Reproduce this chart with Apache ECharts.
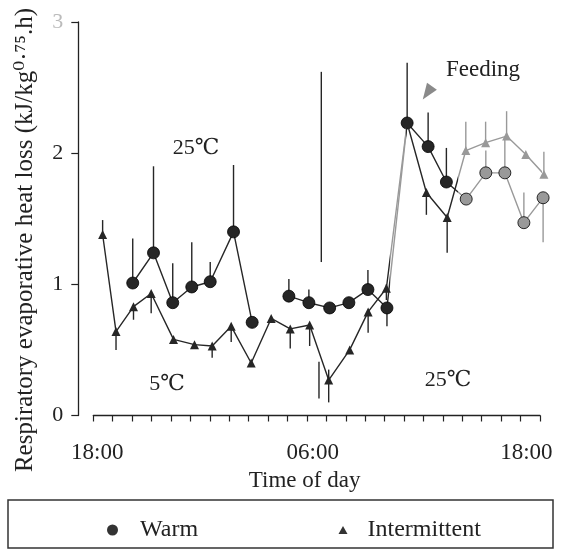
<!DOCTYPE html>
<html>
<head>
<meta charset="utf-8">
<script src="https://cdn.jsdelivr.net/npm/echarts@6/dist/echarts.min.js"></script>
<style>
  html, body { margin: 0; padding: 0; background: #fff; }
  #chart { width: 563px; height: 550px; }
</style>
</head>
<body>
<div id="chart"></div>
<script>
// x is measured in tick steps: tick 0 sits under the first 18:00 reading
const xLabelPos = [-0.8, 10.3, 21.3];
const xLabelText = ["18:00", "06:00", "18:00"];

const warmTime = [1.03, 2.1, 3.09, 4.07, 5.02, 6.22, 7.18, 8, 9.07, 10.1, 11.17, 12.16, 13.14, 14.12,
  15.16, 16.24, 17.18, 18.2, 19.21, 20.19, 21.17, 22.16];
const warmValue = [1.01, 1.24, 0.86, 0.98, 1.02, 1.4, 0.71, "-", 0.91, 0.86, 0.82, 0.86, 0.96, 0.82,
  2.23, 2.05, 1.78, 1.65, 1.85, 1.85, 1.47, 1.66];

const interTime = [-0.52, 0.17, 1.07, 1.98, 3.13, 4.21, 5.12, 6.1, 7.13, 8.16, 9.14, 10.14, 11.12, 12.2,
  13.15, 14.09, 15.16, 16.15, 17.22, 18.18, 19.2, 20.28, 21.27, 22.2];
const interValue = [1.38, 0.64, 0.83, 0.93, 0.58, 0.54, 0.53, 0.68, 0.4, 0.74, 0.66, 0.69, 0.27, 0.5,
  0.79, 0.97, 2.23, 1.7, 1.51, 2.02, 2.08, 2.13, 1.99, 1.84];

// error bars: [time, low, high]
const warmErr = [
  [1.03, 1.01, 1.35], [2.1, 1.24, 1.9], [3.09, 0.86, 1.16], [4.07, 0.98, 1.32],
  [5.02, 1.02, 1.17], [6.22, 1.4, 1.91], [9.07, 0.91, 1.04], [10.1, 0.86, 0.96],
  [10.74, 1.17, 2.62], [13.14, 0.96, 1.11], [14.12, 0.68, 0.82], [15.16, 2.23, 2.69],
  [16.24, 2.05, 2.31], [17.18, 1.78, 2.04], [19.21, 1.85, 2.02], [20.19, 1.85, 2.1],
  [21.17, 1.47, 1.7], [22.16, 1.32, 1.66]
];
const interErr = [
  [-0.52, 1.38, 1.49], [0.17, 0.5, 0.64], [1.07, 0.73, 0.83], [1.98, 0.78, 0.93],
  [5.12, 0.44, 0.53], [6.1, 0.56, 0.68], [9.14, 0.51, 0.66], [10.14, 0.53, 0.69],
  [10.62, 0.13, 0.41], [11.12, 0.1, 0.35], [13.15, 0.63, 0.79], [14.09, 0.88, 1.0],
  [16.15, 1.53, 1.7], [17.22, 1.24, 1.51], [18.18, 2.02, 2.24], [19.2, 2.08, 2.24],
  [20.28, 2.13, 2.32], [22.2, 1.84, 2.01]
];

const serif = "Liberation Serif, DejaVu Serif, serif";

function pairs(xs, ys) {
  return xs.map(function (x, i) { return [x, ys[i]]; });
}

function errBar(params, api) {
  const x = api.value(0);
  const p1 = api.coord([x, api.value(1)]);
  const p2 = api.coord([x, api.value(2)]);
  return {
    type: "line",
    shape: { x1: p1[0], y1: p1[1], x2: p2[0], y2: p2[1] },
    style: { stroke: api.visual("color"), lineWidth: 1.4 }
  };
}

const chart = echarts.init(document.getElementById("chart"));
chart.setOption({
  backgroundColor: "#fff",
  animation: false,
  grid: { left: 93.3, right: 23, top: 22, bottom: 134.5 },
  xAxis: {
    type: "value",
    min: -1,
    max: 22,
    interval: 1,
    name: "Time of day",
    nameLocation: "middle",
    nameGap: 54,
    nameTextStyle: { fontFamily: serif, fontSize: 23, color: "#222", padding: [0, 24, 0, 0] },
    axisLine: { onZero: false, lineStyle: { color: "#222", width: 1.3 } },
    axisTick: { length: 6, lineStyle: { color: "#222", width: 1.2 } },
    axisLabel: {
      customValues: xLabelPos,
      formatter: function (v) { return xLabelText[xLabelPos.indexOf(v)]; },
      fontFamily: serif, fontSize: 23, color: "#222", margin: 26
    },
    splitLine: { show: false }
  },
  yAxis: {
    type: "value",
    min: 0,
    max: 3,
    interval: 1,
    offset: 15,
    axisLine: { show: true, onZero: false, lineStyle: { color: "#222", width: 1.3 } },
    axisTick: { show: true, length: 7, lineStyle: { color: "#222", width: 1.2 } },
    axisLabel: {
      fontFamily: serif, fontSize: 22, margin: 15,
      color: function (v) { return v === "3" || v === 3 ? "#bbb" : "#222"; }
    },
    splitLine: { show: false }
  },
  visualMap: {
    type: "piecewise",
    show: false,
    dimension: 0,
    seriesIndex: [0, 1, 2, 3],
    pieces: [
      { lt: 14.3, color: "#262626" },
      { gte: 14.3, lt: 15.1, color: "#999" },
      { gte: 15.1, lt: 17.77, color: "#262626" },
      { gte: 17.77, color: "#999" }
    ]
  },
  legend: [
    {
      data: [{ name: "Warm", icon: "circle", itemStyle: { color: "#333", borderWidth: 0 } }],
      left: 102, top: 513, itemWidth: 11, itemHeight: 11, selectedMode: false,
      textStyle: { fontFamily: serif, fontSize: 24, color: "#222", padding: [0, 0, 0, 17] }
    },
    {
      data: [{ name: "Intermittent", icon: "triangle", itemStyle: { color: "#333" } }],
      left: 333.5, top: 513, itemWidth: 9, itemHeight: 8, selectedMode: false,
      textStyle: { fontFamily: serif, fontSize: 24, color: "#222", padding: [0, 0, 0, 15] }
    }
  ],
  graphic: [
    { type: "rect", shape: { x: 8, y: 500, width: 545, height: 48 },
      style: { fill: "none", stroke: "#333", lineWidth: 1.5 } },
    { type: "text", x: 25, y: 240, rotation: Math.PI / 2,
      style: { text: "Respiratory evaporative heat loss (kJ/kg\u2070\u00b7\u2077\u2075.h)",
        fontFamily: serif, fontSize: 25, fill: "#222", align: "center", verticalAlign: "middle" } },
    { type: "text", x: 196, y: 148, style: { text: "25\u2103", fontFamily: serif, fontSize: 22, fill: "#222", align: "center", verticalAlign: "middle" } },
    { type: "text", x: 167, y: 384, style: { text: "5\u2103", fontFamily: serif, fontSize: 22, fill: "#222", align: "center", verticalAlign: "middle" } },
    { type: "text", x: 448, y: 380, style: { text: "25\u2103", fontFamily: serif, fontSize: 22, fill: "#222", align: "center", verticalAlign: "middle" } },
    { type: "text", x: 483, y: 70, style: { text: "Feeding", fontFamily: serif, fontSize: 23, fill: "#222", align: "center", verticalAlign: "middle" } }
  ],
  series: [
    {
      name: "warmErr",
      type: "custom",
      renderItem: errBar,
      encode: { x: 0, y: [1, 2] },
      data: warmErr,
      z: 1
    },
    {
      name: "interErr",
      type: "custom",
      renderItem: errBar,
      encode: { x: 0, y: [1, 2] },
      data: interErr,
      z: 1
    },
    {
      name: "Warm",
      type: "line",
      data: pairs(warmTime, warmValue),
      symbol: "circle",
      symbolSize: 12,
      clip: false,
      lineStyle: { width: 1.4 },
      itemStyle: { borderColor: "#000", borderWidth: 0.8 },
      z: 3
    },
    {
      name: "Intermittent",
      type: "line",
      data: pairs(interTime, interValue),
      symbol: "triangle",
      symbolSize: 9,
      clip: false,
      lineStyle: { width: 1.4 },
      z: 4,
      markPoint: {
        symbol: "triangle",
        symbolSize: [12, 16],
        symbolRotate: 145,
        itemStyle: { color: "#8a8a8a" },
        label: { show: false },
        data: [{ coord: [16.2, 2.46] }]
      }
    }
  ]
});
</script>
</body>
</html>
